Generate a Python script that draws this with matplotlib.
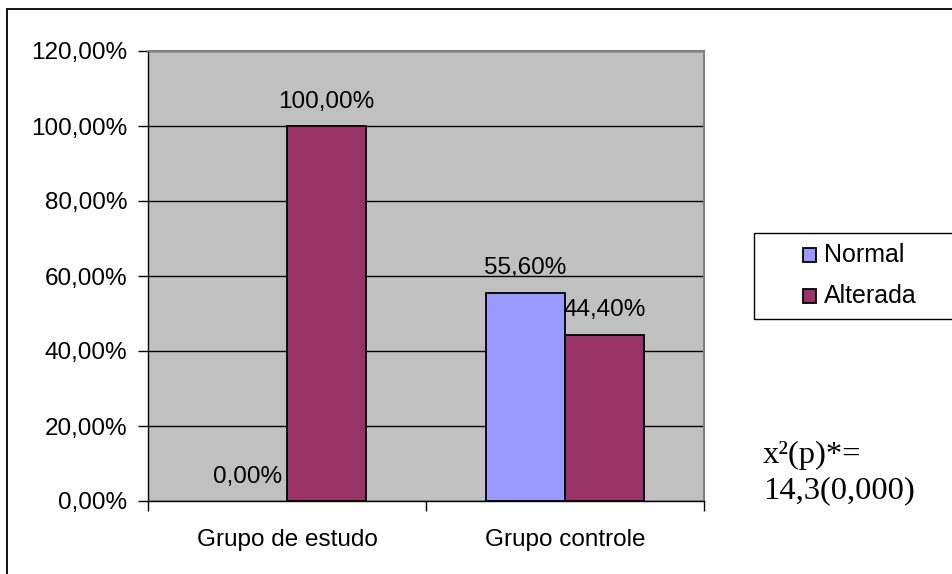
import matplotlib.pyplot as plt
import numpy as np
from matplotlib.patches import Rectangle

# Data
categories = ['Grupo de estudo', 'Grupo controle']
normal = [0.0, 55.6]
alterada = [100.0, 44.4]
series_names = ['Normal', 'Alterada']
series_colors = ['#9999ff', '#993366']
y_ticks = [0, 20, 40, 60, 80, 100, 120]


def pct(v):
    return f'{v:.2f}%'.replace('.', ',')


plt.rcParams['font.family'] = ['Liberation Sans', 'DejaVu Sans']
FS = 17.5

fig = plt.figure(figsize=(9.53, 5.74), dpi=100)
ax = fig.add_axes([148 / 953, 73 / 574, 556 / 953, 450 / 574])

# outer chart frame (only left and top edges fall inside the picture)
fig.patches.append(Rectangle((7 / 953, -0.05), 960 / 953, (565 + 0.05 * 574) / 574,
                             transform=fig.transFigure, fill=False,
                             edgecolor='black', linewidth=1.3))

ax.set_facecolor('#c0c0c0')
x = np.arange(len(categories)) + 0.5
w = 0.284
b1 = ax.bar(x - w / 2, normal, w, color=series_colors[0], edgecolor='black',
            linewidth=[1.3 if v > 0 else 0 for v in normal], zorder=3)
b2 = ax.bar(x + w / 2, alterada, w, color=series_colors[1], edgecolor='black',
            linewidth=[1.3 if v > 0 else 0 for v in alterada], zorder=3)

for bars, vals in [(b1, normal), (b2, alterada)]:
    for rect, v in zip(bars, vals):
        ax.annotate(pct(v), (rect.get_x() + rect.get_width() / 2, v),
                    xytext=(0, 17.5), textcoords='offset points',
                    ha='center', va='center', fontsize=FS, zorder=4)

ax.set_xlim(0, 2)
ax.set_ylim(0, 120)
ax.set_yticks(y_ticks)
ax.set_yticklabels([pct(v) for v in y_ticks], fontsize=FS)
ax.yaxis.grid(True, color='black', linewidth=1)
ax.set_axisbelow(True)

ax.set_xticks([0, 1, 2])
ax.set_xticklabels([])
ax.set_xticks(x, minor=True)
ax.set_xticklabels(categories, minor=True, fontsize=FS)
ax.tick_params(axis='x', which='minor', length=0, pad=20)
ax.tick_params(axis='x', which='major', length=7, width=1, direction='out')
ax.tick_params(axis='y', length=7, width=1, direction='out', pad=8)

for s in ['top', 'right']:
    ax.spines[s].set_color('#808080')
    ax.spines[s].set_linewidth(1.5)
for s in ['left', 'bottom']:
    ax.spines[s].set_color('black')
    ax.spines[s].set_linewidth(1)

# legend box (runs off the right edge like the original)
fig.patches.append(Rectangle((754 / 953, 1 - 319 / 574), 220 / 953, 86 / 574,
                             transform=fig.transFigure, facecolor='white',
                             edgecolor='black', linewidth=1))
for i, (name, col) in enumerate(zip(series_names, series_colors)):
    yc = 255 + 41 * i
    fig.patches.append(Rectangle((803 / 953, 1 - (yc + 7) / 574), 13 / 953, 14 / 574,
                                 transform=fig.transFigure, facecolor=col,
                                 edgecolor='black', linewidth=1.3))
    fig.text(824 / 953, 1 - yc / 574, name, fontsize=18, va='center', ha='left')

fig.text(763 / 953, 1 - 455 / 574, 'x²(p)*=', fontsize=23.4,
         family=['Liberation Serif', 'DejaVu Serif'], va='center', ha='left')
fig.text(763 / 953, 1 - 491 / 574, '14,3(0,000)', fontsize=23.4,
         family=['Liberation Serif', 'DejaVu Serif'], va='center', ha='left')

fig.savefig('out.png', dpi=100)
